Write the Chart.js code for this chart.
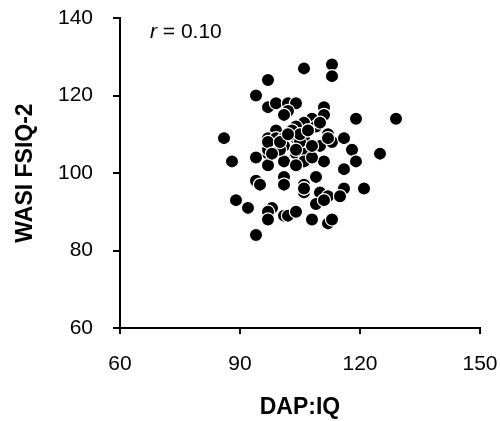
<!DOCTYPE html>
<html>
<head>
<meta charset="utf-8">
<script src="https://cdn.jsdelivr.net/npm/chart.js@4"></script>
<style>
  html, body { margin: 0; padding: 0; background: #fff; }
  #wrap { width: 500px; height: 421px; }
</style>
</head>
<body>
<div id="wrap"><canvas id="dap-wasi"></canvas></div>
<script>
var BLACK = "#000000";
var WHITE = "#ffffff";
var FONT = "'Liberation Sans', Arial, sans-serif";

// DAP:IQ score and WASI FSIQ-2 score, one entry per child
let DAP_IQ = [113, 113, 106, 97, 94, 97, 99, 102, 104, 102, 101, 111, 111, 119, 129,
  108, 106, 104, 109, 99, 86, 97, 99, 101, 104, 106, 112, 113, 116, 110,
  101, 97, 118, 125, 104, 106, 97, 94, 88, 101, 106, 111, 119, 97, 104,
  116, 101, 109, 94, 95, 101, 106, 106, 110, 116, 121, 112, 115, 89, 92,
  98, 109, 111, 97, 97, 101, 102, 104, 108, 112, 113, 94, 97, 106, 97,
  103, 105, 107, 100, 108, 92, 106, 103, 105, 104, 108, 100, 102, 107, 110,
  98, 112];
let FSIQ = [128, 125, 127, 124, 120, 117, 118, 118, 118, 116, 115, 117, 115, 114, 114,
  114, 113, 112, 112, 111, 109, 109, 109, 109, 109, 109, 110, 108, 109, 107,
  107, 107, 106, 105, 105, 105, 105, 104, 103, 103, 103, 103, 103, 102, 102,
  101, 99, 99, 98, 97, 97, 97, 95, 95, 96, 96, 94, 94, 93, 91,
  91, 92, 93, 90, 88, 89, 89, 90, 88, 87, 88, 84, 106, 96, 108,
  110, 108, 111, 106, 104, 91, 96, 111, 110, 106, 107, 108, 110, 111, 113,
  105, 109];

let X_TICKS = [60, 90, 120, 150];
let Y_TICKS = [60, 80, 100, 120, 140];

var points = DAP_IQ.map(function (x, i) { return { x: x, y: FSIQ[i] }; });

// "r = 0.10" in the top left corner of the plot
var corrLabel = {
  id: "corrLabel",
  afterDraw: function (chart) {
    var ctx = chart.ctx;
    var area = chart.chartArea;
    var x = area.left + 30;
    var y = area.top + 14;
    ctx.save();
    ctx.fillStyle = BLACK;
    ctx.textBaseline = "middle";
    ctx.textAlign = "left";
    ctx.font = "italic 21px " + FONT;
    ctx.fillText("r", x, y);
    var w = ctx.measureText("r").width;
    ctx.font = "21px " + FONT;
    ctx.fillText(" = 0.10", x + w, y);
    ctx.restore();
  }
};

var ctx = document.getElementById("dap-wasi").getContext("2d");
var scatter = new Chart(ctx, {
  type: "scatter",
  data: {
    datasets: [{
      data: points,
      backgroundColor: BLACK,
      borderColor: WHITE,
      borderWidth: 1.2,
      pointRadius: 6.6,
      pointHoverRadius: 6.6
    }]
  },
  plugins: [corrLabel],
  options: {
    responsive: true,
    maintainAspectRatio: false,
    animation: false,
    layout: { padding: { top: 18, right: 20, left: 0, bottom: 0 } },
    plugins: {
      legend: { display: false },
      tooltip: { enabled: false }
    },
    scales: {
      x: {
        min: 60,
        max: 150,
        afterBuildTicks: function (axis) {
          axis.ticks = X_TICKS.map(function (v) { return { value: v }; });
        },
        afterFit: function (axis) {
          axis.height = 93;
          axis.paddingLeft = 0;
          axis.paddingRight = 0;
        },
        border: { color: BLACK, width: 2 },
        grid: { drawOnChartArea: false, color: BLACK, lineWidth: 2, tickLength: 6 },
        ticks: { color: BLACK, font: { family: FONT, size: 21 }, padding: 18, maxRotation: 0 },
        title: {
          display: true,
          text: "DAP:IQ",
          color: BLACK,
          font: { family: FONT, size: 23, weight: "bold" },
          padding: { top: 0, bottom: 0 }
        }
      },
      y: {
        min: 60,
        max: 140,
        afterBuildTicks: function (axis) {
          axis.ticks = Y_TICKS.map(function (v) { return { value: v }; });
        },
        afterFit: function (axis) {
          axis.width = 120;
          axis.paddingTop = 0;
          axis.paddingBottom = 0;
        },
        border: { color: BLACK, width: 2 },
        grid: { drawOnChartArea: false, color: BLACK, lineWidth: 2, tickLength: 7 },
        ticks: { color: BLACK, font: { family: FONT, size: 21 }, padding: 20 },
        title: {
          display: true,
          text: "WASI FSIQ-2",
          color: BLACK,
          font: { family: FONT, size: 23, weight: "bold" },
          padding: { top: 12, bottom: 0 }
        }
      }
    }
  }
});
</script>
</body>
</html>
